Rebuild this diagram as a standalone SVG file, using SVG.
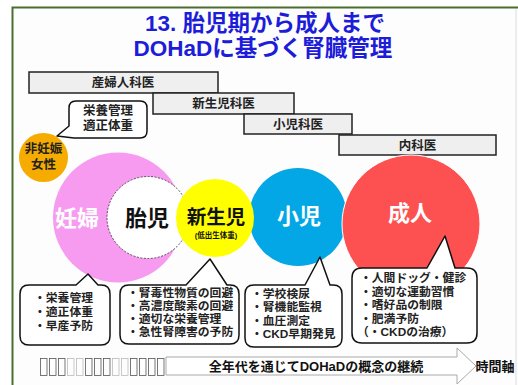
<svg xmlns="http://www.w3.org/2000/svg" width="518" height="385" viewBox="0 0 518 385">
<style>
text{font-family:"Liberation Sans","Noto Sans CJK JP",sans-serif;font-weight:bold}
.title{font-size:22.5px;fill:#1c1cd9;text-anchor:middle}
.bar rect{fill:#efefef;stroke:#222;stroke-width:1.5}
.bar text{font-size:12.5px;fill:#222;text-anchor:middle}
.call{fill:#fff;stroke:#111;stroke-width:1.5;stroke-linejoin:round}
.ct{font-size:11.8px;fill:#222}
.big{font-size:22px;text-anchor:middle}
.tofu{fill:none;stroke-width:0.8}
</style>
<rect x="0" y="0" width="518" height="385" fill="#fff"/>
<rect x="12.5" y="7.5" width="520" height="400" fill="#fdfdfd" stroke="#4a6e2e" stroke-width="2"/>
<line x1="516" y1="9" x2="516" y2="385" stroke="#ddd" stroke-width="1"/>

<g id="title">
<text class="title" x="265" y="31">13. 胎児期から成人まで</text>
<text class="title" x="263" y="56">DOHaDに基づく腎臓管理</text>
</g>

<g id="bar-obgyn" class="bar"><rect x="29" y="72" width="189" height="21"/><text x="123" y="87">産婦人科医</text></g>
<g id="bar-neonatal" class="bar"><rect x="153" y="93" width="141" height="21"/><text x="223.5" y="108">新生児科医</text></g>
<g id="bar-pediatric" class="bar"><rect x="244" y="114" width="108" height="20"/><text x="298" y="129">小児科医</text></g>
<g id="bar-internal" class="bar"><rect x="339" y="135" width="157" height="20"/><text x="417.5" y="150">内科医</text></g>

<g id="pregnant">
<circle cx="118" cy="217.5" r="65" fill="#f79bf1"/>
<text class="big" x="77" y="226" fill="#fff">妊婦</text>
</g>
<g id="fetus">
<circle cx="148" cy="217.5" r="41" fill="#fff" stroke="#333" stroke-width="0.8" stroke-dasharray="2,1.5"/>
<text class="big" x="147" y="226" fill="#111">胎児</text>
</g>
<g id="child">
<circle cx="298" cy="217" r="49" fill="#03a7e6"/>
<text class="big" x="299" y="224" fill="#fff">小児</text>
</g>
<g id="newborn">
<circle cx="215" cy="218" r="39" fill="#ffff00"/>
<text x="216" y="224" font-size="19.5" text-anchor="middle" fill="#111">新生児</text>
<text x="216" y="238" font-size="7.5" text-anchor="middle" fill="#111">(低出生体重)</text>
</g>
<g id="adult">
<circle cx="411" cy="224" r="69" fill="#fd5151" stroke="#fff" stroke-width="1"/>
<text class="big" x="410" y="221" fill="#fff">成人</text>
</g>
<g id="non-pregnant">
<circle cx="43.5" cy="157.5" r="24.5" fill="#f5ab00"/>
<text x="43.5" y="153" font-size="12.5" text-anchor="middle" fill="#222">非妊娠</text>
<text x="43.5" y="169" font-size="12.5" text-anchor="middle" fill="#222">女性</text>
</g>

<g id="connectors">
<path class="call" d="M76,101 H140 Q147,101 147,108 V131 Q147,138 140,138 H74 L57,136 L69,126 V108 Q69,101 76,101 Z"/>
<path class="call" d="M29,285 H76 L88,274 L98,285 H101 Q110,285 110,294 V336 Q110,345 101,345 H29 Q20,345 20,336 V294 Q20,285 29,285 Z"/>
<path class="call" d="M129,285 H186 L210,259 L227,285 H230 Q239,285 239,294 V335 Q239,344 230,344 H129 Q120,344 120,335 V294 Q120,285 129,285 Z"/>
<path class="call" d="M254,285 H305 L320,257 L330,285 H333 Q342,285 342,294 V338 Q342,347 333,347 H254 Q245,347 245,338 V294 Q245,285 254,285 Z"/>
<path class="call" d="M362,268 H427 L445,236 L455,268 H467 Q477,268 477,278 V333 Q477,343 467,343 H362 Q352,343 352,333 V278 Q352,268 362,268 Z"/>
<path d="M166,357 H457 V348 L476,366 L457,384 V375 H166 Z" fill="#fff" stroke="#aaa" stroke-width="1"/>
</g>

<g id="note-nutrition">
<text x="108" y="115" font-size="12.5" text-anchor="middle" fill="#222">栄養管理</text>
<text x="108" y="130" font-size="12.5" text-anchor="middle" fill="#222">適正体重</text>
</g>
<g id="note-pregnant">
<text class="ct" font-size="12.5" x="34" y="302">・栄養管理</text>
<text class="ct" font-size="12.5" x="34" y="316">・適正体重</text>
<text class="ct" font-size="12.5" x="34" y="330">・早産予防</text>
</g>
<g id="note-newborn">
<text class="ct" font-size="11.5" x="127" y="297">・腎毒性物質の回避</text>
<text class="ct" font-size="11.5" x="127" y="310">・高濃度酸素の回避</text>
<text class="ct" font-size="11.5" x="127" y="323">・適切な栄養管理</text>
<text class="ct" font-size="11.5" x="127" y="336">・急性腎障害の予防</text>
</g>
<g id="note-child">
<text class="ct" x="251" y="297.5">・学校検尿</text>
<text class="ct" x="251" y="311">・腎機能監視</text>
<text class="ct" x="251" y="324.5">・血圧測定</text>
<text class="ct" x="251" y="338">・CKD早期発見</text>
</g>
<g id="note-adult">
<text class="ct" font-size="11.5" x="360" y="282">・人間ドッグ・健診</text>
<text class="ct" font-size="11.5" x="360" y="295.5">・適切な運動習慣</text>
<text class="ct" font-size="11.5" x="360" y="309">・嗜好品の制限</text>
<text class="ct" font-size="11.5" x="360" y="322.5">・肥満予防</text>
<text class="ct" font-size="11.5" x="357" y="336">（・CKDの治療）</text>
</g>

<g id="timeline">
<g class="tofu" stroke="#555">
<rect x="40.5" y="358.5" width="6.5" height="17"/>
<rect x="49.5" y="358.5" width="6.5" height="17"/>
<rect x="58.5" y="358.5" width="6.5" height="17"/>
<rect x="85.5" y="358.5" width="6.5" height="17"/>
<rect x="94.5" y="358.5" width="6.5" height="17"/>
<rect x="103.5" y="358.5" width="6.5" height="17"/>
<rect x="130.5" y="358.5" width="6.5" height="17"/>
<rect x="139.5" y="358.5" width="6.5" height="17"/>
<rect x="148.5" y="358.5" width="6.5" height="17"/>
<rect x="157.5" y="358.5" width="6.5" height="17"/>
</g>
<g class="tofu" stroke="#bbb">
<rect x="67.5" y="358.5" width="6.5" height="17"/>
<rect x="76.5" y="358.5" width="6.5" height="17"/>
<rect x="112.5" y="358.5" width="6.5" height="17"/>
<rect x="121.5" y="358.5" width="6.5" height="17"/>
</g>
<text x="316" y="371" font-size="13" text-anchor="middle" fill="#111">全年代を通じてDOHaDの概念の継続</text>
<text x="495" y="371" font-size="13" text-anchor="middle" fill="#111">時間軸</text>
</g>
</svg>
